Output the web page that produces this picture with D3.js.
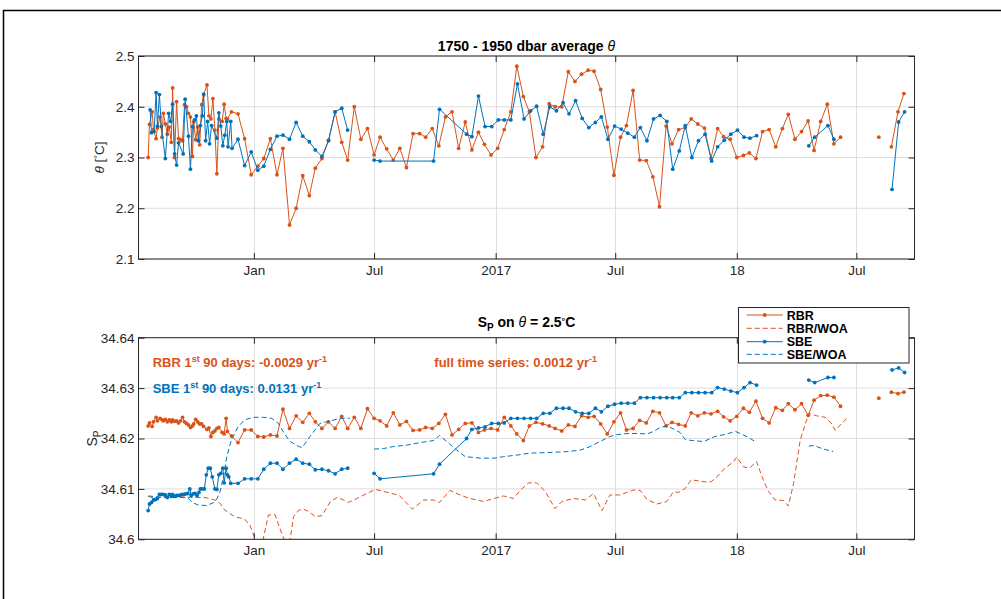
<!DOCTYPE html>
<html><head><meta charset="utf-8">
<script src="https://cdn.jsdelivr.net/npm/d3@7"></script>
<style>
body{margin:0;background:#fff}
svg{display:block}
text{font-family:"Liberation Sans",Arial,Helvetica,sans-serif}
</style>
</head><body>
<svg id="c" width="1001" height="599"></svg>
<script>
// ---------- DATA (days are counted from 2016-01-01) ----------
const xStart = "2015-07-10T09:00:00Z";
const xEnd = "2018-09-27T00:00:00Z";
const xTickDates = ["2016-01-01","2016-07-01","2017-01-01","2017-07-01","2018-01-01","2018-07-01"];
const xTickLabels = ["Jan","Jul","2017","Jul","18","Jul"];
const thetaTicks = [2.1,2.2,2.3,2.4,2.5];
const thetaTickLabels = ["2.1","2.2","2.3","2.4","2.5"];
const spTicks = [34.60,34.61,34.62,34.63,34.64];
const spTickLabels = ["34.6","34.61","34.62","34.63","34.64"];
const legendLabels = ["RBR","RBR/WOA","SBE","SBE/WOA"];

const rbrDays = [-160,-158,-154,-152,-148,-146,-142,-139,-137,-134,-131,-128,-125,-123,-120,-117,-114,-111,-108,-105,
 -102,-99,-96,-93,-91,-88,-85,-82,-79,-76,-71,-68,-65,-62,-59,-56,-53,-48,-45,-42,-40,
 -34,-24,-14,-4,6,15,25,35,44,54,64,74,84,93,103,113,123,133,142,152,162,172,182,191,201,
 211,221,231,241,251,260,270,280,290,300,310,320,330,340,349,359,369,379,389,398,
 408,417,427,437,447,456,466,476,486,496,506,515,525,535,545,555,564,574,584,594,
 604,614,624,633,643,653,662,672,682,692,702,711,721,731,741,750,760,770,780,790,
 800,809,819,829,839,848,858,868,878,888,898,907,917,927,936,946,956,965,975,984];
const rbrTheta = [2.300,2.365,2.390,2.355,2.337,2.358,2.380,2.340,2.387,2.366,2.346,2.360,2.330,2.437,2.300,2.410,2.337,2.335,2.333,2.404,
 2.400,2.387,2.380,2.302,2.370,2.335,2.360,2.325,2.404,2.423,2.443,2.382,2.376,2.416,2.354,2.268,2.376,2.371,2.405,2.377,2.376,
 2.390,2.386,2.337,2.266,2.283,2.298,2.337,2.266,2.318,2.167,2.200,2.264,2.225,2.279,2.298,2.334,2.390,2.330,2.295,2.400,2.336,2.357,2.305,2.340,2.317,
 2.295,2.318,2.280,2.347,2.347,2.340,2.357,2.323,2.380,2.390,2.318,2.370,2.315,2.350,2.326,2.305,2.318,2.355,2.390,2.480,
 2.420,2.390,2.300,2.321,2.406,2.400,2.400,2.469,2.450,2.464,2.472,2.470,2.434,2.360,2.265,2.340,2.363,2.432,2.295,2.294,
 2.262,2.203,2.362,2.327,2.355,2.359,2.376,2.366,2.358,2.298,2.357,2.341,2.336,2.300,2.304,2.309,2.298,2.351,2.355,2.321,
 2.357,2.385,2.336,2.351,2.372,2.314,2.371,2.405,2.327,2.340,null,null,null,null,null,2.340,null,2.321,2.390,2.426];
const rbrSp = [34.6225,34.6231,34.6224,34.6233,34.6242,34.6235,34.6240,34.6237,34.6235,34.6238,34.6233,34.6237,34.6233,34.6237,34.6234,34.6235,34.6231,34.6235,34.6242,34.6233,
 34.6230,34.6227,34.6222,34.6225,34.6229,34.6238,34.6233,34.6229,34.6229,34.6224,34.6218,34.6221,34.6204,34.6212,34.6215,34.6220,34.6222,34.6212,34.6209,34.6240,34.6214,
 34.6205,34.6192,34.6217,34.6217,34.6204,34.6203,34.6207,34.6205,34.6258,34.6220,34.6245,34.6232,34.6250,34.6233,34.6220,34.6233,34.6220,34.6244,34.6220,34.6242,34.6220,34.6259,34.6240,34.6235,34.6225,
 34.6251,34.6227,34.6234,34.6216,34.6217,34.6222,34.6220,34.6230,34.6248,34.6207,34.6218,34.6230,34.6231,34.6212,34.6217,34.6220,34.6217,34.6242,34.6225,34.6209,
 34.6196,34.6225,34.6232,34.6229,34.6225,34.6220,34.6215,34.6227,34.6224,34.6245,34.6242,34.6244,34.6229,34.6209,34.6233,34.6251,34.6217,34.6220,34.6236,34.6231,
 34.6254,34.6251,34.6225,34.6232,34.6228,34.6225,34.6251,34.6245,34.6251,34.6249,34.6254,34.6243,34.6235,34.6244,34.6260,34.6252,34.6274,34.6240,34.6231,34.6261,
 34.6256,34.6269,34.6257,34.6269,34.6246,34.6276,34.6285,34.6286,34.6282,34.6264,null,null,null,null,null,34.6280,null,34.6292,34.6289,34.6292];

const sbeThetaDays = [-157,-155,-151,-148,-146,-143,-140,-134,-129,-126,-123,-120,-117,-114,-107,-104,-99,-96,-93,-90,
 -87,-84,-81,-78,-76,-73,-70,-67,-64,-56,-53,-50,-47,-44,-41,-39,-35,-33,
 -24,-14,-4,6,15,25,35,44,54,64,74,84,93,103,113,123,133,142,162,182,191,272,281,
 322,330,340,350,360,370,379,389,399,409,419,428,438,448,458,468,477,487,497,507,517,526,536,546,556,566,576,
 585,595,605,615,625,634,644,653,663,673,683,693,702,712,722,732,742,751,761,800,840,849,869,878,920,966,976,985];
const sbeTheta = [2.394,2.349,2.351,2.428,2.362,2.424,2.361,2.298,2.387,2.371,2.405,2.307,2.285,2.329,2.307,2.415,2.342,2.277,2.361,2.374,
 2.382,2.333,2.363,2.382,2.425,2.333,2.371,2.327,2.363,2.338,2.388,2.362,2.323,2.344,2.371,2.321,2.371,2.318,
 2.336,2.284,2.311,2.275,2.283,2.316,2.342,2.344,2.336,2.369,2.342,2.331,2.315,2.302,2.333,2.390,2.397,2.354,null,2.295,2.293,2.293,2.395,
 2.346,2.341,2.421,2.361,2.361,2.374,2.374,2.374,2.445,2.376,2.392,2.401,2.346,2.400,2.392,2.408,2.386,2.412,2.377,2.359,2.369,2.380,2.336,2.362,2.356,2.348,2.340,
 2.359,2.333,2.376,2.383,2.371,2.277,2.313,2.363,2.300,2.333,2.346,2.293,2.321,2.334,2.346,2.354,2.340,2.338,2.343,null,2.323,2.340,2.363,2.336,null,2.237,2.370,2.390];

const sbeSpDays = [-160,-158,-155,-152,-149,-146,-143,-140,-137,-134,-131,-128,-125,-123,-120,-117,-114,-112,-109,-106,
 -103,-100,-97,-95,-92,-89,-86,-83,-81,-78,-75,-72,-69,-66,-63,-59,-56,-53,-50,-47,-45,-42,-40,-38,-35,
 -24,-14,-4,6,15,25,35,44,54,64,74,84,93,103,113,123,133,142,162,182,191,272,281,
 322,330,340,350,360,370,379,389,399,409,419,428,438,448,458,468,477,487,497,507,517,526,536,546,556,566,576,
 585,595,605,615,625,634,644,653,663,673,683,693,702,712,722,732,742,751,761,800,840,849,869,878,920,966,976,985];
const sbeSp = [34.6057,34.6070,34.6073,34.6078,34.6079,34.6081,34.6089,34.6089,34.6089,34.6088,34.6083,34.6089,34.6085,34.6089,34.6085,34.6087,34.6087,34.6087,34.6089,34.6089,
 34.6090,34.6091,34.6100,34.6087,34.6090,34.6091,34.6087,34.6093,34.6100,34.6100,34.6100,34.6128,34.6141,34.6141,34.6124,34.6100,34.6099,34.6128,34.6131,34.6141,34.6112,34.6141,34.6128,34.6124,34.6111,
 34.6111,34.6120,34.6120,34.6120,34.6139,34.6151,34.6151,34.6139,34.6151,34.6159,34.6151,34.6149,34.6138,34.6139,34.6136,34.6130,34.6139,34.6141,null,34.6131,34.6120,34.6130,34.6149,
 34.6200,34.6218,34.6221,34.6223,34.6230,34.6230,34.6231,34.6240,34.6240,34.6240,34.6240,34.6240,34.6250,34.6250,34.6260,34.6260,34.6260,34.6253,34.6250,34.6250,34.6260,34.6253,34.6264,34.6268,34.6270,34.6270,34.6270,
 34.6281,34.6281,34.6281,34.6281,34.6281,34.6281,34.6281,34.6291,34.6291,34.6291,34.6291,34.6291,34.6301,34.6298,34.6294,34.6291,34.6301,34.6311,34.6306,null,34.6316,34.6311,34.6321,34.6321,null,34.6336,34.6340,34.6331];

const rbrWoaDays = [-160,-149,-137,-117,-96,-74,-59,-51,-44,-29,-14,-6,2,8,14,22,32,42,46,50,55,60,68,75,83,93,103,116,126,136,143,156,171,184,196,209,220,240,257,272,281,297,312,327,348,363,378,393,403,416,428,441,456,466,484,502,514,527,539,554,575,585,595,610,625,635,643,653,662,683,692,701,713,726,731,741,750,761,771,779,789,802,809,817,827,840,852,865,875,880,890,900];
const rbrWoa = [34.6085,34.6081,34.6085,34.6085,34.6083,34.6083,34.6078,34.6071,34.6058,34.6045,34.6040,34.6028,34.6000,34.5975,34.6000,34.6048,34.6049,34.6012,34.6000,34.5985,34.6000,34.6045,34.6058,34.6060,34.6055,34.6045,34.6047,34.6075,34.6083,34.6078,34.6073,34.6081,34.6091,34.6099,34.6095,34.6091,34.6087,34.6060,34.6078,34.6078,34.6073,34.6097,34.6088,34.6081,34.6075,34.6081,34.6086,34.6081,34.6097,34.6112,34.6112,34.6095,34.6061,34.6075,34.6081,34.6078,34.6091,34.6057,34.6088,34.6088,34.6098,34.6097,34.6079,34.6070,34.6075,34.6094,34.6093,34.6101,34.6118,34.6114,34.6114,34.6124,34.6141,34.6154,34.6163,34.6144,34.6141,34.6154,34.6118,34.6095,34.6078,34.6077,34.6066,34.6111,34.6197,34.6250,34.6245,34.6242,34.6229,34.6216,34.6230,34.6243];

const sbeWoaDays = [-160,-137,-110,-100,-92,-84,-72,-62,-56,-51,-46,-41,-34,-24,-14,-1,15,27,37,46,55,68,73,85,100,116,131,145,160,182,196,211,232,252,272,281,292,307,320,343,365,378,398,418,443,474,494,509,524,539,547,565,580,595,605,615,625,635,645,653,663,681,698,713,729,736,749,761,800,840,848,860,877];
const sbeWoa = [34.6086,34.6083,34.6083,34.6082,34.6072,34.6068,34.6067,34.6072,34.6080,34.6095,34.6124,34.6164,34.6197,34.6223,34.6237,34.6242,34.6242,34.6240,34.6230,34.6210,34.6194,34.6184,34.6182,34.6204,34.6230,34.6235,34.6240,34.6240,null,34.6179,34.6180,34.6184,34.6187,34.6192,34.6196,34.6206,34.6194,34.6177,34.6164,34.6161,34.6161,34.6164,34.6167,34.6171,34.6172,34.6174,34.6177,34.6184,34.6194,34.6204,34.6207,34.6210,34.6210,34.6209,34.6214,34.6222,34.6225,34.6219,34.6212,34.6198,34.6196,34.6194,34.6204,34.6208,34.6214,34.6210,34.6202,34.6192,null,34.6185,34.6186,34.6180,34.6174];

// ---------- DRAWING ----------
const ORANGE = "#D95319", BLUE = "#0072BD", AX = "#262626", GRID = "#dedede";
const svg = d3.select("#c");
const day0 = Date.UTC(2016,0,1);
const toDate = d => new Date(day0 + d*86400000);
const pack = (days, vals) => days.map((d,i) => ({t: toDate(d), v: vals[i]}));

const L = 138.5, R = 914.5;
const x = d3.scaleUtc().domain([new Date(xStart), new Date(xEnd)]).range([L, R]);
const xTicks = xTickDates.map(s => new Date(s + "T00:00:00Z"));

// outer frame
svg.append("rect").attr("x",3.5).attr("y",10.5).attr("width",1200).attr("height",800)
  .attr("fill","none").attr("stroke","#000").attr("stroke-width",1.5);

function panel(id, top, bottom, yDomain, yTicks, yLabels) {
  const y = d3.scaleLinear().domain(yDomain).range([bottom, top]);
  const g = svg.append("g");
  g.append("g").selectAll("line").data(xTicks).join("line")
    .attr("x1", d => Math.round(x(d))+0.5).attr("x2", d => Math.round(x(d))+0.5)
    .attr("y1", top).attr("y2", bottom).attr("stroke", GRID).attr("stroke-width",1);
  g.append("g").selectAll("line").data(yTicks).join("line")
    .attr("x1", L).attr("x2", R).attr("y1", d => y(d)).attr("y2", d => y(d))
    .attr("stroke", GRID).attr("stroke-width",1);
  svg.append("clipPath").attr("id", id).append("rect")
    .attr("x", L).attr("y", top).attr("width", R-L).attr("height", bottom-top);
  const data = g.append("g").attr("clip-path", `url(#${id})`);
  const fmtX = (d,i) => xTickLabels[i];
  const ax = g.append("g");
  ax.append("g").attr("transform",`translate(0,${bottom})`)
    .call(d3.axisBottom(x).tickValues(xTicks).tickFormat(fmtX).tickSizeInner(-6).tickSizeOuter(0).tickPadding(6));
  ax.append("g").attr("transform",`translate(0,${top})`)
    .call(d3.axisTop(x).tickValues(xTicks).tickFormat("").tickSizeInner(-6).tickSizeOuter(0));
  ax.append("g").attr("transform",`translate(${L},0)`)
    .call(d3.axisLeft(y).tickValues(yTicks).tickFormat((d,i)=>yLabels[i]).tickSizeInner(-6).tickSizeOuter(0).tickPadding(4));
  ax.append("g").attr("transform",`translate(${R},0)`)
    .call(d3.axisRight(y).tickValues(yTicks).tickFormat("").tickSizeInner(-6).tickSizeOuter(0));
  ax.selectAll(".domain").remove();
  ax.selectAll(".tick line").attr("stroke", AX);
  ax.selectAll(".tick text").attr("fill", AX).style("font-size","13.5px")
    .style("font-family",'"Liberation Sans",Arial,sans-serif');
  g.append("rect").attr("x",L).attr("y",top).attr("width",R-L).attr("height",bottom-top)
    .attr("fill","none").attr("stroke",AX).attr("stroke-width",1);
  return {y, data};
}

function series(layer, y, pts, color, dashed, markers) {
  const line = d3.line().defined(d => d.v != null).x(d => x(d.t)).y(d => y(d.v));
  layer.append("path").datum(pts).attr("d", line).attr("fill","none")
    .attr("stroke", color).attr("stroke-width", 1)
    .attr("stroke-dasharray", dashed ? "5,3" : null);
  if (markers) {
    layer.append("g").selectAll("circle").data(pts.filter(d => d.v != null)).join("circle")
      .attr("cx", d => x(d.t)).attr("cy", d => y(d.v)).attr("r", 1.9).attr("fill", color);
  }
}

const P1 = panel("clipTop", 56, 259, [2.1, 2.5], thetaTicks, thetaTickLabels);
series(P1.data, P1.y, pack(rbrDays, rbrTheta), ORANGE, false, true);
series(P1.data, P1.y, pack(sbeThetaDays, sbeTheta), BLUE, false, true);

const P2 = panel("clipBot", 337.7, 539.3, [34.60, 34.64], spTicks, spTickLabels);
series(P2.data, P2.y, pack(rbrDays, rbrSp), ORANGE, false, true);
series(P2.data, P2.y, pack(rbrWoaDays, rbrWoa), ORANGE, true, false);
series(P2.data, P2.y, pack(sbeSpDays, sbeSp), BLUE, false, true);
series(P2.data, P2.y, pack(sbeWoaDays, sbeWoa), BLUE, true, false);

const cx = (L+R)/2;
const t1 = svg.append("text").attr("x", cx).attr("y", 51).attr("text-anchor","middle")
  .style("font-size","14px").style("font-weight","bold").attr("fill","#000");
t1.append("tspan").text("1750 - 1950 dbar average ");
t1.append("tspan").text("θ").style("font-style","italic").style("font-weight","normal");

const t2 = svg.append("text").attr("x", cx).attr("y", 327).attr("text-anchor","middle")
  .style("font-size","14px").style("font-weight","bold").attr("fill","#000");
t2.append("tspan").text("S");
t2.append("tspan").text("P").attr("dy",4).style("font-size","10px");
t2.append("tspan").text(" on ").attr("dy",-4);
t2.append("tspan").text("θ").style("font-style","italic").style("font-weight","normal");
t2.append("tspan").text(" = 2.5");
t2.append("tspan").text("°").attr("dy",-3).style("font-size","9px");
t2.append("tspan").text("C").attr("dy",3);

const yl1 = svg.append("text").attr("transform","translate(104,157.5) rotate(-90)")
  .attr("text-anchor","middle").style("font-size","13.5px").attr("fill",AX);
yl1.append("tspan").text("θ").style("font-style","italic");
yl1.append("tspan").text(" [");
yl1.append("tspan").text("°").attr("dy",-3).style("font-size","9px");
yl1.append("tspan").text("C]").attr("dy",3);

const yl2 = svg.append("text").attr("transform","translate(97,438.5) rotate(-90)")
  .attr("text-anchor","middle").style("font-size","14px").attr("fill",AX);
yl2.append("tspan").text("S");
yl2.append("tspan").text("P").attr("dy",3.5).style("font-size","10px");

function annot(xp, yp, color, pre, mid) {
  const t = svg.append("text").attr("x", xp).attr("y", yp).style("font-size","13px")
    .style("font-weight","bold").attr("fill", color);
  t.append("tspan").text(pre);
  if (mid !== null) {
    t.append("tspan").text("st").attr("dy",-5).style("font-size","9px");
    t.append("tspan").text(mid).attr("dy",5);
  }
  t.append("tspan").text("-1").attr("dy",-5).style("font-size","9px");
}
annot(152.7, 367, ORANGE, "RBR 1", " 90 days: -0.0029 yr");
annot(152.7, 392.5, BLUE, "SBE 1", " 90 days: 0.0131 yr");
annot(434.3, 367, ORANGE, "full time series: 0.0012 yr", null);

const lg = svg.append("g");
lg.append("rect").attr("x",738.5).attr("y",307.5).attr("width",170.5).attr("height",55.5)
  .attr("fill","#fff").attr("stroke",AX).attr("stroke-width",1);
const legendColors = [ORANGE, ORANGE, BLUE, BLUE];
const legendDashed = [false, true, false, true];
const legendRows = [315, 328.3, 341.7, 354.3];
legendLabels.forEach((lab,i) => {
  const yy = legendRows[i];
  lg.append("line").attr("x1",746.7).attr("x2",782.7).attr("y1",yy).attr("y2",yy)
    .attr("stroke",legendColors[i]).attr("stroke-width",1)
    .attr("stroke-dasharray", legendDashed[i] ? "5,3" : null);
  if (!legendDashed[i]) lg.append("circle").attr("cx",764.7).attr("cy",yy).attr("r",1.9).attr("fill",legendColors[i]);
  lg.append("text").attr("x",786.7).attr("y",yy+4.5).text(lab)
    .style("font-size","12.5px").style("font-weight","bold").attr("fill","#000");
});
</script>
</body></html>
